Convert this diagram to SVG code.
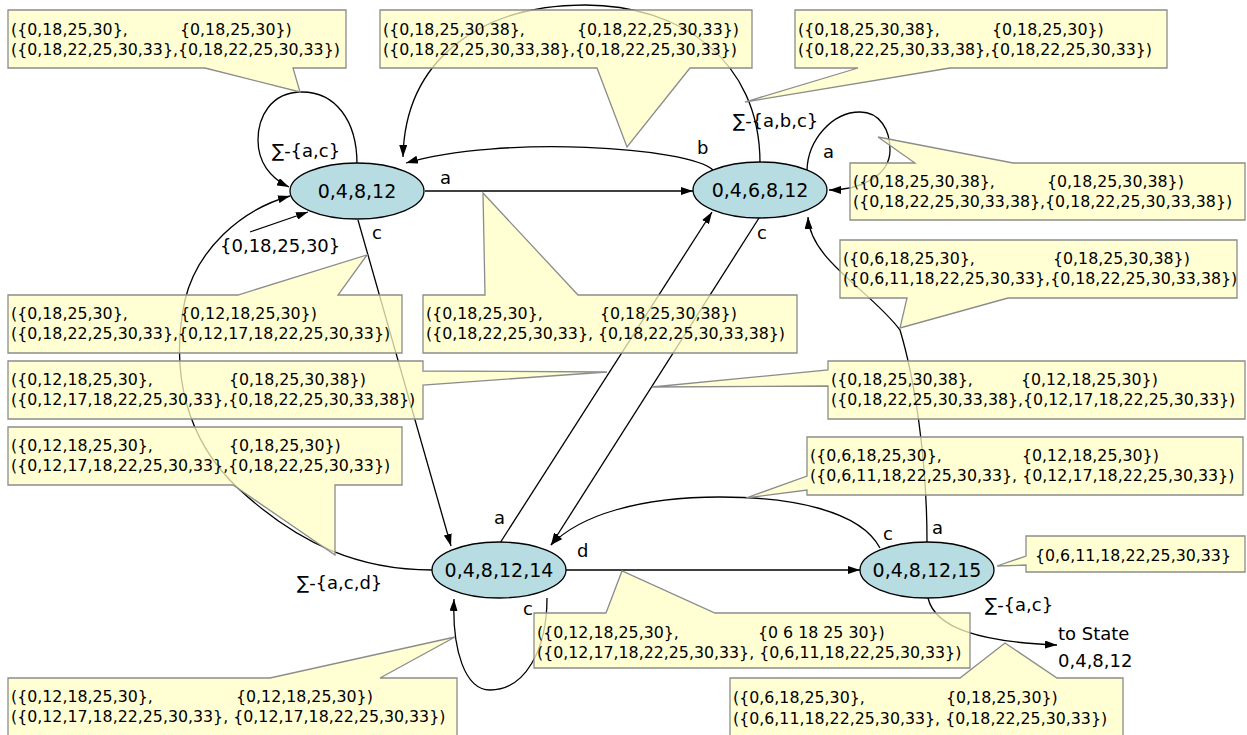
<svg xmlns="http://www.w3.org/2000/svg" width="1247" height="735" viewBox="0 0 1247 735">
  <defs>
    <marker id="arrow" markerWidth="12" markerHeight="8" refX="12" refY="4" orient="auto" markerUnits="userSpaceOnUse">
      <path d="M0,0 L12,4 L0,8 z" fill="#000"/>
    </marker>
  </defs>
  <style>
    .edge{fill:none;stroke:#000;stroke-width:1.3;marker-end:url(#arrow)}
    .plain{fill:none;stroke:#000;stroke-width:1.3}
    .elabel{font-family:"DejaVu Sans",sans-serif;font-size:18px;fill:#000}
    .node ellipse{fill:#b7dde3;stroke:#000;stroke-width:1.3}
    .node text{font-family:"DejaVu Sans",sans-serif;font-size:19px;text-anchor:middle;fill:#000}
    .note path{fill:#ffffc4;fill-opacity:0.75;stroke:#8c8c8c;stroke-width:1.3}
    .note text{font-family:"DejaVu Sans",sans-serif;font-size:15.8px;fill:#000}
  </style>

  <rect width="1247" height="735" fill="#fff"/>

  <!-- transitions -->
  <g id="connectors">
    <path class="edge" d="M250,232 L308,212"/>
    <path class="edge" d="M357,164 C357,120 335,92 302,92 C270,92 258,118 258,140 C258,162 270,178 289,187"/>
    <path class="edge" d="M425,191 L693,191"/>
    <path class="edge" d="M713,170 C690,147 500,135 406,163"/>
    <path class="edge" d="M760,163 C760,60 680,5 585,5 C480,5 405,60 403,157"/>
    <path class="edge" d="M807,170 C808,140 832,112 860,112 C880,112 890,130 890,150 C890,175 862,190 829,190"/>
    <path class="edge" d="M358,220 L451,546"/>
    <path class="edge" d="M500,543 L712,212"/>
    <path class="edge" d="M759,218 L551,545"/>
    <path class="edge" d="M432,570 C360,570 300,545 240,490 C185,440 170,370 185,300 C197,250 240,210 290,196"/>
    <path class="edge" d="M547,598 C547,650 525,690 490,690 C465,690 452,650 454,599"/>
    <path class="edge" d="M566,570 L860,570"/>
    <path class="edge" d="M880,548 C860,510 790,497 720,497 C640,497 580,515 551,545"/>
    <path class="edge" d="M927,542 C927,460 915,380 900,330 C870,290 810,260 808,217"/>
    <path class="edge" d="M928,598 C935,628 980,642 1057,645"/>

    <text class="elabel" x="220" y="252">{0,18,25,30}</text>
    <text class="elabel" x="272" y="157">∑-{a,c}</text>
    <text class="elabel" x="440" y="184">a</text>
    <text class="elabel" x="697" y="154">b</text>
    <text class="elabel" x="733" y="127">∑-{a,b,c}</text>
    <text class="elabel" x="823" y="158">a</text>
    <text class="elabel" x="372" y="239">c</text>
    <text class="elabel" x="757" y="239">c</text>
    <text class="elabel" x="494" y="524">a</text>
    <text class="elabel" x="577" y="557">d</text>
    <text class="elabel" x="523" y="615">c</text>
    <text class="elabel" x="297" y="589">∑-{a,c,d}</text>
    <text class="elabel" x="883" y="540">c</text>
    <text class="elabel" x="932" y="534">a</text>
    <text class="elabel" x="985" y="611">∑-{a,c}</text>
    <text class="elabel" x="1058" y="640">to State</text>
    <text class="elabel" x="1058" y="667">0,4,8,12</text>
  </g>

  <!-- states -->
  <g id="s-0-4-8-12" class="node">
    <ellipse cx="357" cy="191" rx="67" ry="28"/>
    <text x="357" y="198">0,4,8,12</text>
  </g>
  <g id="s-0-4-6-8-12" class="node">
    <ellipse cx="760" cy="190" rx="67" ry="28"/>
    <text x="760" y="197">0,4,6,8,12</text>
  </g>
  <g id="s-0-4-8-12-14" class="node">
    <ellipse cx="499" cy="570" rx="67" ry="28"/>
    <text x="499" y="577">0,4,8,12,14</text>
  </g>
  <g id="s-0-4-8-12-15" class="node">
    <ellipse cx="927" cy="570" rx="67" ry="28"/>
    <text x="927" y="577">0,4,8,12,15</text>
  </g>

  <!-- annotation callouts -->
  <g id="note-1" class="note">
    <path d="M8,10 H346 V68 H293 L300,92 L205,68 H8 Z"/>
    <text x="11" y="35">({0,18,25,30},<tspan x="180">{0,18,25,30})</tspan></text>
    <text x="11" y="55">({0,18,22,25,30,33},{0,18,22,25,30,33})</text>
  </g>
  <g id="note-2" class="note">
    <path d="M380,10 H752 V68 H690 L627,147 L597,68 H380 Z"/>
    <text x="383" y="35">({0,18,25,30,38},<tspan x="577">{0,18,22,25,30,33})</tspan></text>
    <text x="383" y="55">({0,18,22,25,30,33,38},{0,18,22,25,30,33})</text>
  </g>
  <g id="note-3" class="note">
    <path d="M795,10 H1167 V68 H950 L745,102 L858,68 H795 Z"/>
    <text x="798" y="35">({0,18,25,30,38},<tspan x="992">{0,18,25,30})</tspan></text>
    <text x="798" y="55">({0,18,22,25,30,33,38},{0,18,22,25,30,33})</text>
  </g>
  <g id="note-4" class="note">
    <path d="M850,163 H915 L878,137 L1013,163 H1245 V220 H850 Z"/>
    <text x="853" y="187">({0,18,25,30,38},<tspan x="1047">{0,18,25,30,38})</tspan></text>
    <text x="853" y="207">({0,18,22,25,30,33,38},{0,18,22,25,30,33,38})</text>
  </g>
  <g id="note-5" class="note">
    <path d="M840,240 H1237 V298 H1008 L900,328 L907,298 H840 Z"/>
    <text x="843" y="264">({0,6,18,25,30},<tspan x="1053">{0,18,25,30,38})</tspan></text>
    <text x="843" y="284">({0,6,11,18,22,25,30,33},{0,18,22,25,30,33,38})</text>
  </g>
  <g id="note-6" class="note">
    <path d="M828,361 H1245 V419 H828 V386 L652,387 L828,370 Z"/>
    <text x="831" y="385">({0,18,25,30,38},<tspan x="1021">{0,12,18,25,30})</tspan></text>
    <text x="831" y="405">({0,18,22,25,30,33,38},{0,12,17,18,22,25,30,33})</text>
  </g>
  <g id="note-7" class="note">
    <path d="M8,295 H238 L367,255 L338,295 H402 V353 H8 Z"/>
    <text x="11" y="319">({0,18,25,30},<tspan x="180">{0,12,18,25,30})</tspan></text>
    <text x="11" y="339">({0,18,22,25,30,33},{0,12,17,18,22,25,30,33})</text>
  </g>
  <g id="note-8" class="note">
    <path d="M8,361 H423 V371 L607,372 L423,385 V419 H8 Z"/>
    <text x="11" y="385">({0,12,18,25,30},<tspan x="229">{0,18,25,30,38})</tspan></text>
    <text x="11" y="405">({0,12,17,18,22,25,30,33},{0,18,22,25,30,33,38})</text>
  </g>
  <g id="note-9" class="note">
    <path d="M8,427 H402 V485 H335 L335,555 L233,485 H8 Z"/>
    <text x="11" y="451">({0,12,18,25,30},<tspan x="229">{0,18,25,30})</tspan></text>
    <text x="11" y="471">({0,12,17,18,22,25,30,33},{0,18,22,25,30,33})</text>
  </g>
  <g id="note-10" class="note">
    <path d="M423,295 H485 L483,193 L578,295 H797 V353 H423 Z"/>
    <text x="426" y="319">({0,18,25,30},<tspan x="600">{0,18,25,30,38})</tspan></text>
    <text x="426" y="339">({0,18,22,25,30,33}, {0,18,22,25,30,33,38})</text>
  </g>
  <g id="note-11" class="note">
    <path d="M807,437 H1243 V495 H807 V490 L746,498 L807,476 Z"/>
    <text x="810" y="461">({0,6,18,25,30},<tspan x="1022">{0,12,18,25,30})</tspan></text>
    <text x="810" y="481">({0,6,11,18,22,25,30,33}, {0,12,17,18,22,25,30,33})</text>
  </g>
  <g id="note-12" class="note">
    <path d="M1026,536 H1245 V572 H1026 V565 L997,566 L1026,556 Z"/>
    <text x="1035" y="561">{0,6,11,18,22,25,30,33}</text>
  </g>
  <g id="note-13" class="note">
    <path d="M534,613 H606 L622,571 L715,613 H970 V668 H534 Z"/>
    <text x="537" y="638">({0,12,18,25,30},<tspan x="758">{0 6 18 25 30})</tspan></text>
    <text x="537" y="658">({0,12,17,18,22,25,30,33}, {0,6,11,18,22,25,30,33})</text>
  </g>
  <g id="note-14" class="note">
    <path d="M730,678 H960 L1005,643 L1057,678 H1123 V740 H730 Z"/>
    <text x="733" y="703">({0,6,18,25,30},<tspan x="946">{0,18,25,30})</tspan></text>
    <text x="733" y="724">({0,6,11,18,22,25,30,33}, {0,18,22,25,30,33})</text>
  </g>
  <g id="note-15" class="note">
    <path d="M8,678 H270 L455,637 L380,678 H457 V740 H8 Z"/>
    <text x="11" y="702">({0,12,18,25,30},<tspan x="236">{0,12,18,25,30})</tspan></text>
    <text x="11" y="722">({0,12,17,18,22,25,30,33}, {0,12,17,18,22,25,30,33})</text>
  </g>
</svg>
